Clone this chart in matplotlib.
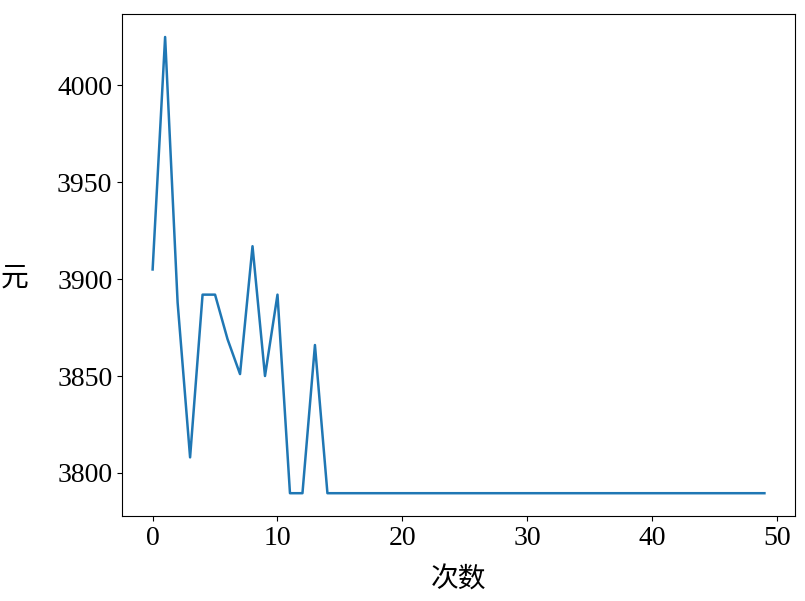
import matplotlib
matplotlib.use("Agg")
import matplotlib.pyplot as plt

plt.rcParams['font.family'] = ['Liberation Serif', 'Noto Sans CJK SC']

# cost per iteration
head = [3905, 4025, 3888, 3808, 3892, 3892, 3869, 3851, 3917, 3850,
        3892, 3789.5, 3789.5, 3866, 3789.5]
tail = [3789.5] * 35
cost = head + tail
runs = list(range(len(cost)))

fig = plt.figure(figsize=(8.05, 6.01), dpi=100)
ax = fig.add_axes([0.1516, 0.1414, 0.836, 0.835])
ax.plot(runs, cost, color="#1f77b4", linewidth=1.8)

ax.set_xlabel("次数", fontsize=20, family=['Noto Sans CJK SC'], labelpad=10)
ax.set_ylabel("元", fontsize=20, rotation=0, va="center", ha="center",
              family=['Noto Sans CJK SC'])
ax.yaxis.set_label_coords(-0.159, 0.475)
ax.tick_params(labelsize=20)
ax.set_yticks([3800, 3850, 3900, 3950, 4000])

plt.savefig("out.png", dpi=100)
plt.close()
